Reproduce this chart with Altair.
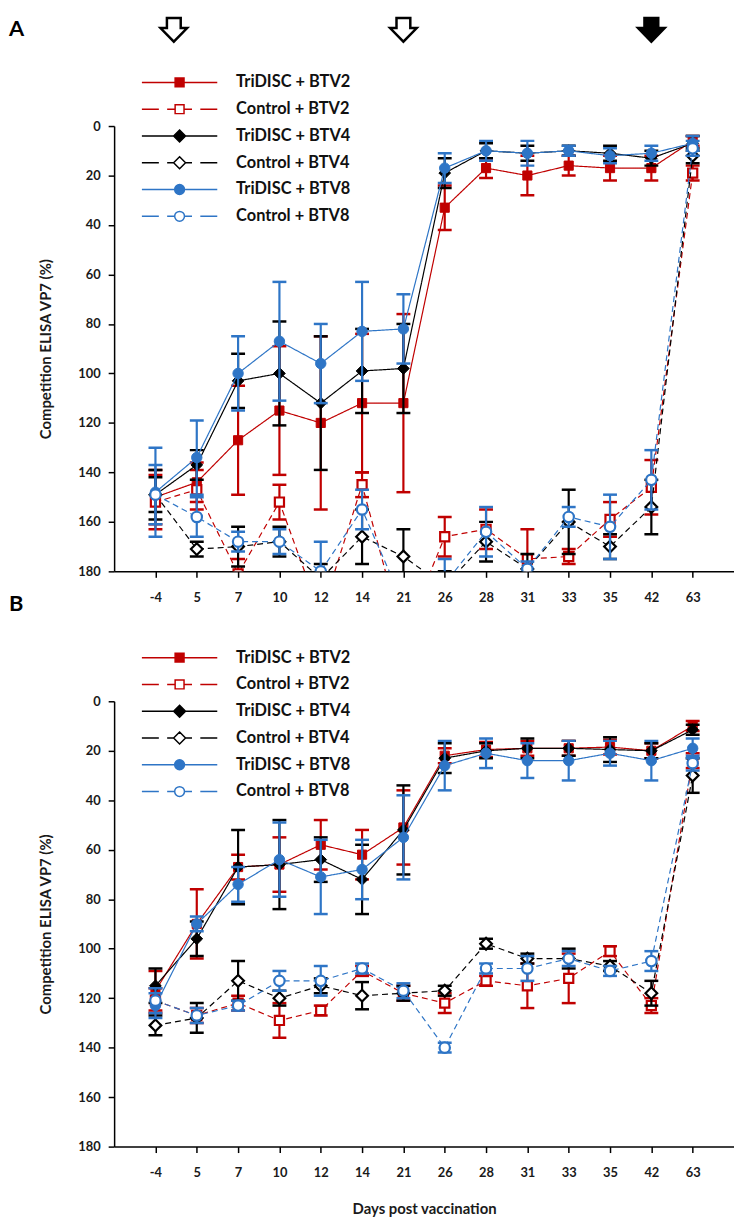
import altair as alt
import numpy as np
import pandas as pd

# ---------------- data ----------------
days = ["-4", "5", "7", "10", "12", "14", "21", "26", "28", "31", "33", "35", "42", "63"]
day_values = [-4, 5, 7, 10, 12, 14, 21, 26, 28, 31, 33, 35, 42, 63]

series_names = ["TriDISC + BTV2", "Control + BTV2", "TriDISC + BTV4",
                "Control + BTV4", "TriDISC + BTV8", "Control + BTV8"]
series_colors = ["#c00000", "#c00000", "#000000", "#000000", "#2e75c6", "#2e75c6"]
series_fills = ["#c00000", "#ffffff", "#000000", "#ffffff", "#2e75c6", "#ffffff"]
series_shapes = ["square", "square", "diamond", "diamond", "circle", "circle"]
series_sizes = [85, 85, 140, 140, 110, 110]
series_dashed = [False, True, False, True, False, True]

# Panel A  (mean, SD)
a_tri_btv2 = [150, 144, 127, 115, 120, 112, 112, 33, 17, 20, 16, 17, 17, 6]
a_tri_btv2_sd = [11, 8, 22, 26, 35, 28, 36, 9, 4, 8, 4, 5, 5, 2]
a_ctl_btv2 = [152, 147, 181, 152, 198, 145, 207, 166, 163, 175, 174, 159, 146, 19]
a_ctl_btv2_sd = [11, 8, 6, 7, 8, 5, 8, 8, 8, 12, 3, 7, 11, 3]
a_tri_btv4 = [149, 137, 103, 100, 112, 99, 98, 19, 10, 11, 10, 11, 13, 7]
a_tri_btv4_sd = [10, 6, 11, 21, 27, 17, 18, 6, 3, 3, 2, 3, 3, 3]
a_ctl_btv4 = [149, 171, 170, 168, 183, 166, 174, 186, 168, 179, 160, 170, 154, 12]
a_ctl_btv4_sd = [7, 3, 8, 6, 6, 11, 11, 6, 8, 6, 13, 5, 11, 3]
a_tri_btv8 = [148, 134, 100, 87, 96, 83, 82, 17, 10, 11, 10, 12, 11, 7]
a_tri_btv8_sd = [18, 15, 15, 24, 16, 20, 14, 6, 4, 5, 2, 3, 3, 3]
a_ctl_btv8 = [149, 158, 168, 168, 180, 155, 193, 185, 164, 179, 158, 162, 143, 9]
a_ctl_btv8_sd = [12, 8, 4, 5, 12, 8, 8, 10, 10, 3, 4, 13, 12, 3]

# Panel B  (mean, SD)
b_tri_btv2 = [117, 90, 67, 66, 58, 62, 51, 22, 19.5, 19, 19, 18.5, 20, 10]
b_tri_btv2_sd = [8, 14, 5, 11, 10, 10, 15, 3, 3, 3, 3, 3, 3, 2]
b_ctl_btv2 = [121, 127, 122, 129, 125, 109, 118, 122, 113, 115, 112, 101, 123, 24]
b_ctl_btv2_sd = [5, 3, 3, 7, 2, 2, 3, 4, 2, 9, 10, 2, 3, 3]
b_tri_btv4 = [115, 96, 67, 66, 64, 72, 52, 23, 20, 19, 19, 19.5, 20, 11.5]
b_tri_btv4_sd = [7, 7, 15, 18, 9, 14, 18, 6, 3, 4, 3, 5, 3, 2]
b_ctl_btv4 = [131, 128, 113, 120, 115, 119, 118, 117, 98, 104, 104, 107, 118, 30]
b_ctl_btv4_sd = [4, 6, 8, 3, 3, 5.5, 3, 2, 2, 2, 4, 2, 5, 7]
b_tri_btv8 = [123, 90, 74, 64, 71, 68, 55, 26, 21, 24, 24, 21, 24, 19]
b_tri_btv8_sd = [5, 3, 7, 15, 15, 12, 17, 10, 6, 7, 8, 5, 8, 4]
b_ctl_btv8 = [121, 127, 123, 113, 113, 108, 117, 140, 108, 108, 104, 109, 105, 25]
b_ctl_btv8_sd = [5, 3, 2, 4, 6, 2, 3, 2, 2, 5, 3, 2, 4, 3]

# vaccination (open) and challenge (filled) arrows
arrow_days = [0, 21, 42]
arrow_filled = [False, False, True]

y_ticks = [0, 20, 40, 60, 80, 100, 120, 140, 160, 180]
y_title = "Competition ELISA VP7 (%)"
x_title = "Days post vaccination"

# ---------------- styling helpers ----------------
FONT = "Lato"
PLOT_W, PLOT_H = 625, 449

sq = "M-0.118,-0.118H0.118V0.118H-0.118Z"
dm = "M0,-0.158L0.158,0L0,0.158L-0.158,0Z"
cr = "M0.13,0A0.13,0.13,0,1,1,-0.13,0A0.13,0.13,0,1,1,0.13,0Z"
solid = "M-1,0H1"
m = {"square": (sq, 0.118), "diamond": (dm, 0.158), "circle": (cr, 0.13)}
legend_paths = []
for shp, dashed in zip(series_shapes, series_dashed):
    p, r = m[shp]
    if dashed:
        legend_paths.append(f"M-1,0H-0.55M-0.33,0H-{r}M{r},0H0.33M0.55,0H1" + p)
    else:
        legend_paths.append(solid + p)

arrow_path = "M-0.58,-1L0.58,-1L0.58,-0.15L1.12,-0.15L0,1L-1.12,-0.15L-0.58,-0.15Z"

label_expr = "[" + ",".join(f"'{d}'" for d in days) + "][datum.value]"
xscale = alt.Scale(domain=[-1, len(days)], nice=False, zero=False)
yscale = alt.Scale(domain=[0, 180], reverse=True, nice=False, zero=False)


def make_panel(means, sds, letter, with_arrows, xt):
    xaxis = alt.Axis(values=list(range(len(days))), labelExpr=label_expr,
                     title=xt, labelPadding=14, titlePadding=22)
    yaxis = alt.Axis(values=y_ticks, title=y_title, labelPadding=8, titlePadding=25)

    def X():
        return alt.X("pos:Q", scale=xscale, axis=xaxis)

    def Y(f):
        return alt.Y(f"{f}:Q", scale=yscale, axis=yaxis)

    layers = []
    for i, name in enumerate(series_names):
        df = pd.DataFrame({
            "pos": list(range(len(days))),
            "mean": means[i],
            "lo": [a - b for a, b in zip(means[i], sds[i])],
            "hi": [a + b for a, b in zip(means[i], sds[i])],
        })
        col = series_colors[i]
        base = alt.Chart(df)
        layers.append(base.mark_rule(color=col, strokeWidth=2.2, clip=True)
                      .encode(x=X(), y=Y("lo"), y2="hi:Q"))
        for f in ("lo", "hi"):
            layers.append(base.mark_tick(color=col, orient="horizontal", size=14,
                                         thickness=2.5, clip=True, opacity=1)
                          .encode(x=X(), y=Y(f)))
        layers.append(base.mark_line(color=col, strokeWidth=1.2, clip=True,
                                     strokeDash=[6, 4] if series_dashed[i] else [1, 0])
                      .encode(x=X(), y=Y("mean")))
        layers.append(base.mark_point(shape=series_shapes[i], size=series_sizes[i],
                                      opacity=1, clip=True,
                                      strokeWidth=2.2 if series_dashed[i] else 1)
                      .encode(x=X(), y=Y("mean"),
                              fill=alt.value(series_fills[i]),
                              stroke=alt.value(col)))

    if with_arrows:
        adf = pd.DataFrame({"pos": np.interp(arrow_days, day_values, list(range(len(days)))),
                            "filled": arrow_filled})
        for flag, fcol in ((False, "white"), (True, "black")):
            layers.append(alt.Chart(adf[adf.filled == flag])
                          .mark_point(shape=arrow_path, size=576, strokeWidth=2.5, opacity=1)
                          .encode(x=X(), y=alt.value(-97),
                                  fill=alt.value(fcol), stroke=alt.value("black")))

    layers.append(alt.Chart(pd.DataFrame({"t": [letter]}))
                  .mark_text(font=FONT, fontSize=22, fontWeight="bold", align="left",
                             baseline="middle", color="black")
                  .encode(text="t:N", x=alt.value(-106), y=alt.value(-98)))

    leg = alt.Legend(orient="none", legendX=27, legendY=-52, title=None,
                     symbolSize=5776, symbolStrokeWidth=1.5, clipHeight=16,
                     rowPadding=10, labelOffset=18, labelFont=FONT, labelFontSize=16.5,
                     labelFontWeight="bold", labelColor="#111111", padding=0,
                     symbolOpacity=1, labelLimit=300)
    layers.append(alt.Chart(pd.DataFrame({"series": series_names}))
                  .transform_filter("false")
                  .mark_point(opacity=1)
                  .encode(shape=alt.Shape("series:N", scale=alt.Scale(domain=series_names, range=legend_paths), legend=leg),
                          stroke=alt.Stroke("series:N", scale=alt.Scale(domain=series_names, range=series_colors), legend=leg),
                          fill=alt.Fill("series:N", scale=alt.Scale(domain=series_names, range=series_fills), legend=leg)))

    return alt.layer(*layers).properties(width=PLOT_W, height=PLOT_H)


means_a = [a_tri_btv2, a_ctl_btv2, a_tri_btv4, a_ctl_btv4, a_tri_btv8, a_ctl_btv8]
sds_a = [a_tri_btv2_sd, a_ctl_btv2_sd, a_tri_btv4_sd, a_ctl_btv4_sd, a_tri_btv8_sd, a_ctl_btv8_sd]
means_b = [b_tri_btv2, b_ctl_btv2, b_tri_btv4, b_ctl_btv4, b_tri_btv8, b_ctl_btv8]
sds_b = [b_tri_btv2_sd, b_ctl_btv2_sd, b_tri_btv4_sd, b_ctl_btv4_sd, b_tri_btv8_sd, b_ctl_btv8_sd]

panel_a = make_panel(means_a, sds_a, "A", True, None)
panel_b = make_panel(means_b, sds_b, "B", False, x_title)

chart = (alt.vconcat(panel_a, panel_b, spacing=131, bounds="flush")
         .resolve_scale(shape="independent", stroke="independent", fill="independent")
         .resolve_legend(shape="independent", stroke="independent", fill="independent")
         .properties(padding={"left": 1, "top": 0, "right": 0, "bottom": 0})
         .configure_view(stroke=None)
         .configure_axis(grid=False, domainColor="black", domainWidth=1.5,
                         tickColor="black", tickWidth=1.5, tickSize=6,
                         labelFont=FONT, labelFontSize=13, labelFontWeight="bold",
                         labelColor="#1a1a1a", titleFont=FONT, titleFontSize=15,
                         titleFontWeight="bold", titleColor="#1a1a1a"))

chart.save("out.html", embed_options={"renderer": "svg", "actions": False})
